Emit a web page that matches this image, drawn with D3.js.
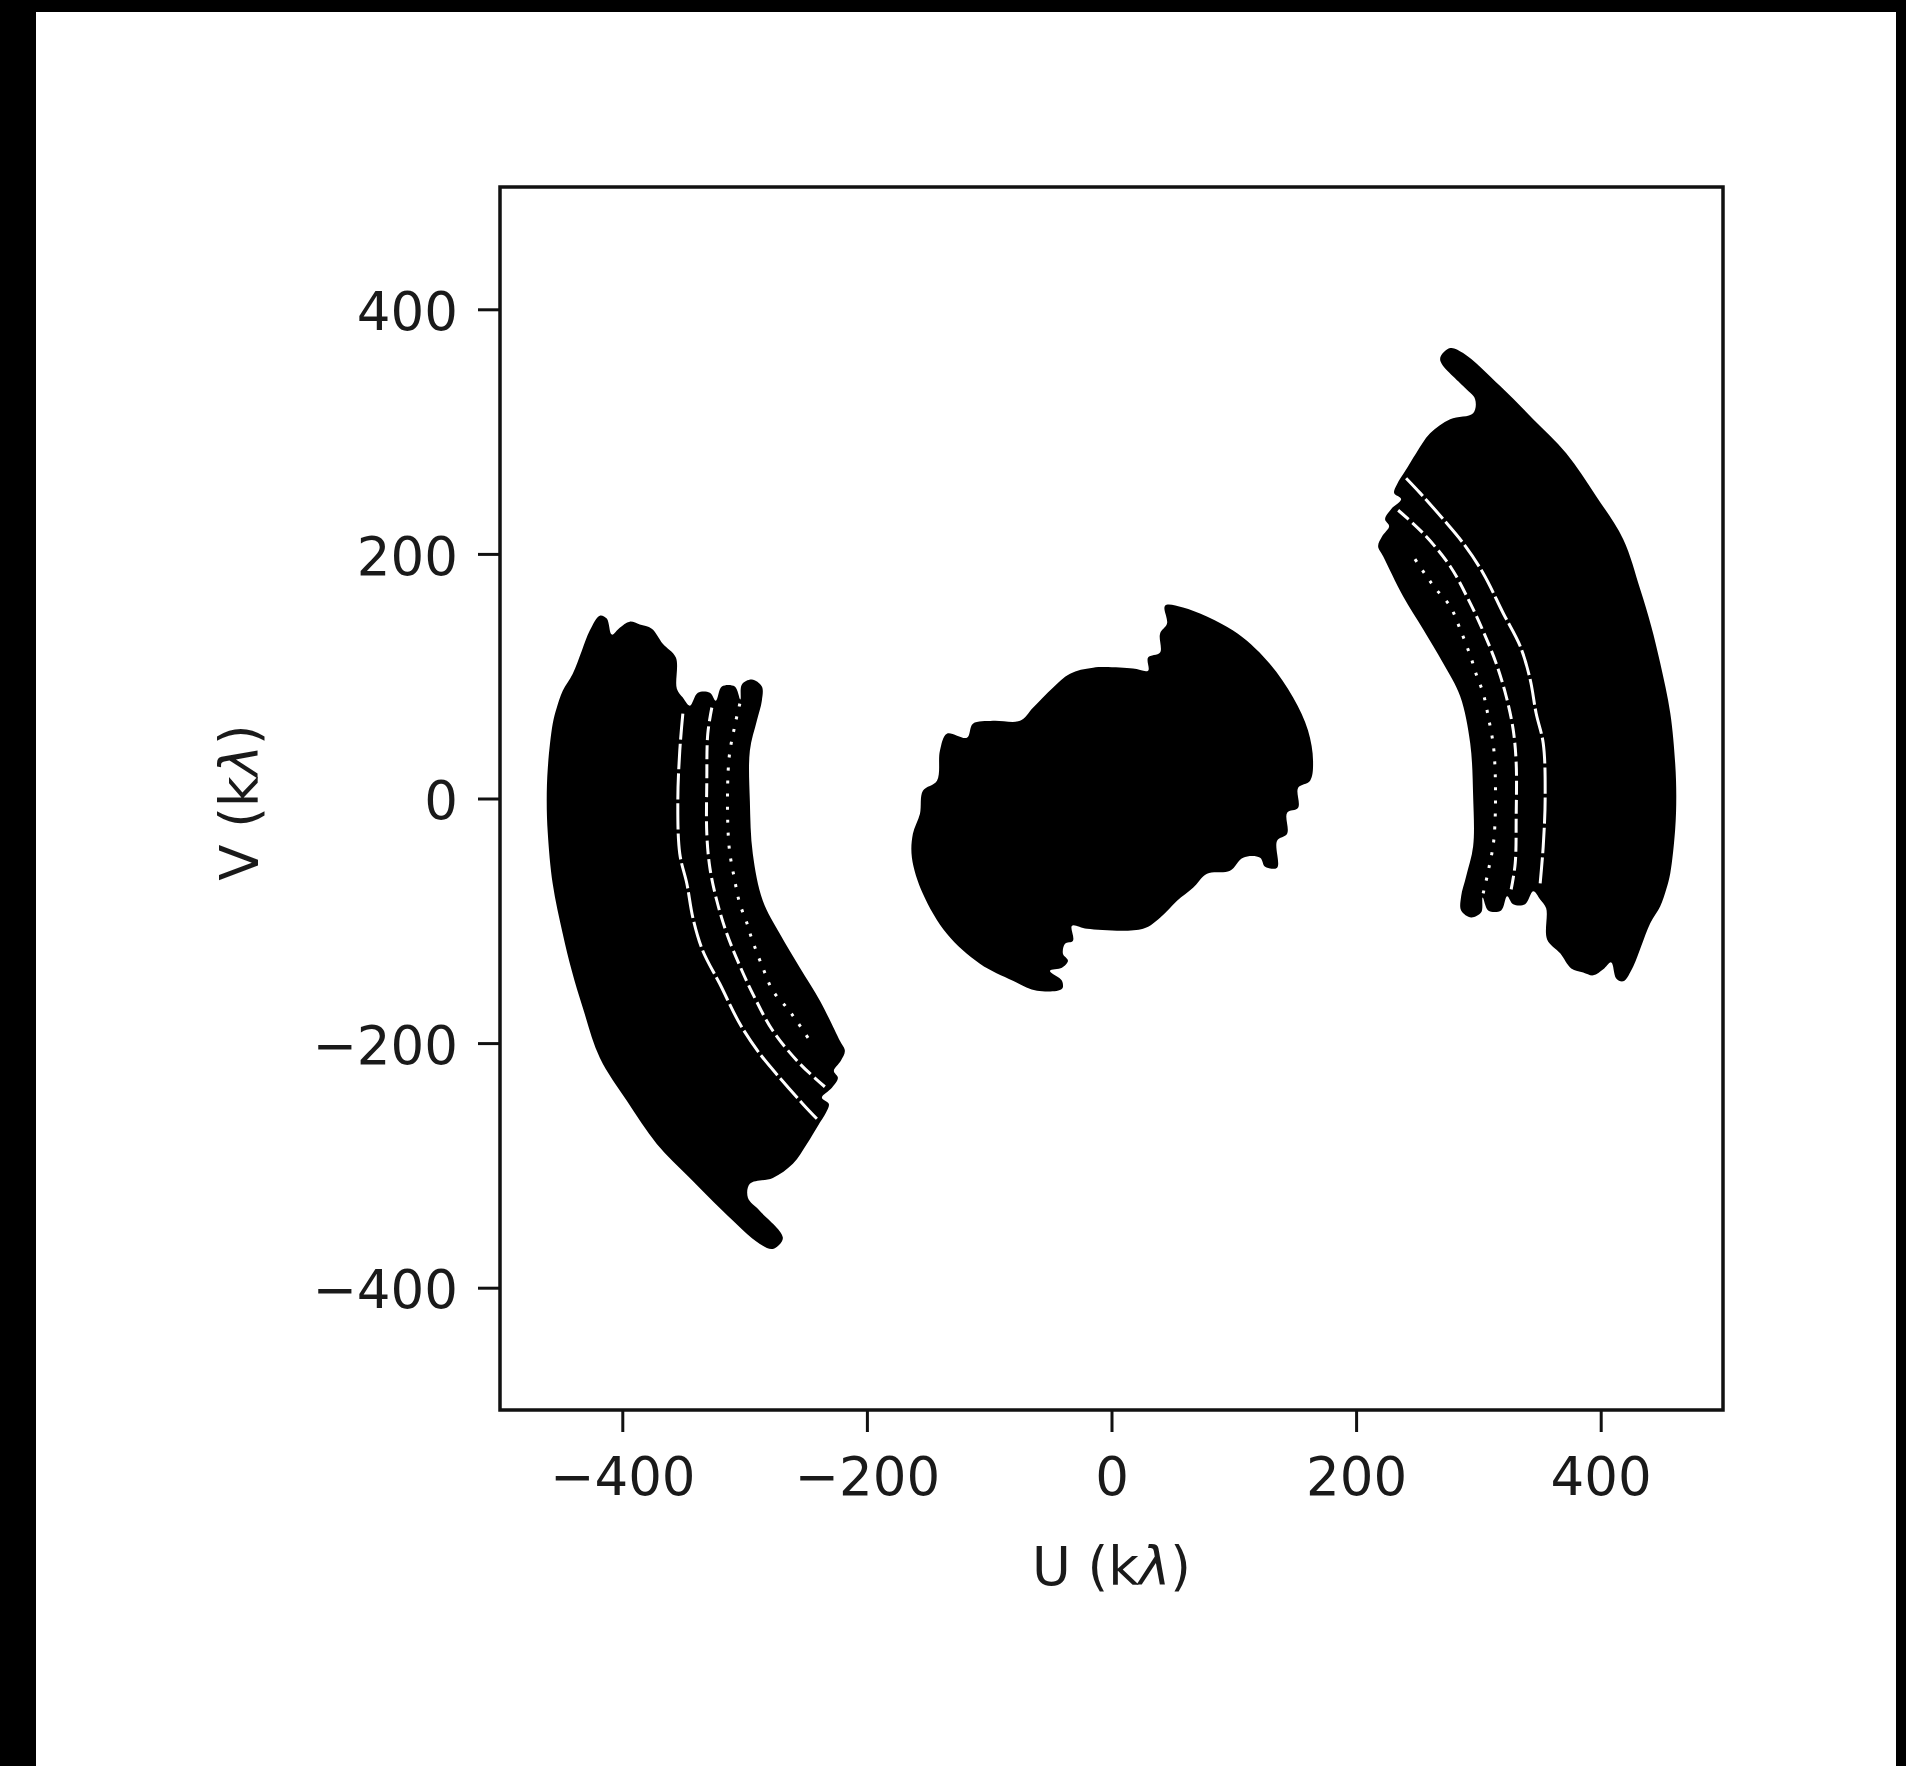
<!DOCTYPE html>
<html>
<head>
<meta charset="utf-8">
<script src="https://cdn.jsdelivr.net/npm/d3@7"></script>
<style>
  html, body { margin: 0; padding: 0; background: #000; }
  svg { display: block; }
</style>
</head>
<body>
<svg id="chart" width="1906" height="1766"></svg>
<script>
// ---- data (kλ) ----
const uDomain = [-500, 500];
const vDomain = [-500, 500];
const uTicks = [-400, -200, 0, 200, 400];
const vTicks = [-400, -200, 0, 200, 400];

// Long-baseline track (u < 0 half); its conjugate (-u, -v) is drawn as well
const longArcOutline = [
  [-418.4, 149.5], [-426.6, 137.3], [-433.1, 120.9], [-440.5, 102.1], [-448.7, 88.2],
  [-453.6, 74.3], [-456.9, 61.2], [-460.9, 25.2], [-461.8, -1.8], [-460.9, -28.8],
  [-456.9, -69.7], [-448.7, -110.6], [-441.3, -140.9], [-432.3, -171.1], [-418.4, -212.0],
  [-396.3, -247.2], [-371.8, -282.4], [-344.8, -310.2], [-317.8, -337.2], [-287.5, -364.2],
  [-276.9, -368.3], [-268.7, -359.3], [-287.5, -337.2], [-297.3, -326.5], [-295.7, -315.1],
  [-276.9, -310.2], [-260.5, -298.7], [-249.1, -282.4], [-240.1, -267.7], [-233.5, -257.0],
  [-231.1, -249.7], [-236.8, -244.7], [-228.6, -236.6], [-223.7, -228.4], [-227.0, -222.7],
  [-221.3, -214.5], [-218.0, -206.3], [-222.1, -198.1], [-238.4, -165.4], [-254.8, -138.4],
  [-271.2, -110.6], [-285.1, -83.6], [-293.3, -45.2], [-295.7, -1.8], [-295.7, 39.1],
  [-290.0, 63.6], [-285.9, 80.0], [-285.9, 91.5], [-294.1, 97.2], [-302.3, 93.1],
  [-303.5, 81.0], [-308.0, 91.5], [-318.6, 91.5], [-323.5, 80.0], [-328.4, 86.5],
  [-338.2, 86.5], [-344.8, 75.9], [-350.5, 82.5], [-355.4, 89.8], [-356.2, 115.2],
  [-366.9, 126.6], [-375.9, 138.9], [-385.7, 142.2], [-393.9, 144.6], [-402.1, 139.7],
  [-408.6, 134.0], [-412.7, 147.1]
];

// empty lanes between neighbouring baselines inside the long track
const laneGapOuter = [
  [-350.5, 69.4], [-353.0, 39.1], [-354.6, -1.8], [-353.0, -45.2], [-347.2, -69.7],
  [-342.3, -97.5], [-334.2, -124.5], [-320.3, -151.5], [-303.9, -184.2], [-287.5, -208.8],
  [-271.2, -228.4], [-252.4, -249.7], [-240.9, -261.9]
];
const laneGapMiddle = [
  [-326.8, 74.3], [-330.1, 53.0], [-330.9, 14.6], [-330.9, -28.8], [-328.4, -56.6],
  [-322.7, -83.6], [-314.5, -110.6], [-303.9, -136.8], [-293.3, -159.7], [-276.9, -189.9],
  [-254.8, -216.9], [-234.4, -235.7]
];
const laneGapInner = [
  [-303.9, 77.5], [-308.0, 59.6], [-312.9, 30.9], [-312.9, -37.0], [-308.0, -67.2],
  [-303.9, -86.1], [-298.2, -101.6], [-294.1, -114.7], [-285.1, -138.4], [-276.9, -157.2],
  [-265.4, -171.1], [-256.4, -183.4], [-245.0, -200.6]
];

// Short-baseline coverage (both halves)
const shortBaselineOutline = [
  [43.8, 157.7], [58.5, 156.1], [99.4, 137.3], [127.2, 112.7], [148.5, 82.5],
  [160.7, 55.5], [164.8, 30.9], [162.4, 14.6], [152.6, 8.8], [152.6, -7.5],
  [143.6, -11.6], [143.6, -28.8], [135.4, -34.5], [135.4, -56.6], [125.6, -55.8],
  [121.5, -48.4], [107.6, -48.4], [96.9, -59.1], [78.1, -61.5], [66.7, -73.0],
  [53.6, -83.6], [39.7, -97.5], [25.8, -106.5], [-20.0, -106.5], [-32.3, -104.0],
  [-31.5, -116.3], [-38.0, -118.8], [-39.7, -127.0], [-35.6, -132.7], [-40.5, -138.4],
  [-50.3, -140.9], [-40.5, -149.0], [-40.5, -155.6], [-60.9, -157.2], [-80.6, -149.0],
  [-107.6, -135.1], [-134.6, -110.6], [-154.2, -77.9], [-163.2, -48.4], [-162.4, -28.8],
  [-156.6, -12.4], [-154.2, 6.4], [-142.7, 14.6], [-140.3, 39.1], [-134.6, 53.0],
  [-118.2, 49.7], [-113.3, 61.2], [-96.9, 63.6], [-74.8, 63.6], [-64.2, 74.3],
  [-47.9, 90.6], [-33.9, 102.1], [-15.1, 107.0], [17.6, 106.2], [29.9, 104.5],
  [29.9, 115.2], [39.7, 119.3], [39.7, 134.8], [45.4, 143.0]
];

// ---- layout ----
const plot = { left: 500, top: 187, size: 1223 };
const fontFamily = "'DejaVu Sans', 'Liberation Sans', sans-serif";
const textColor = "#1a1a1a";
const fontSize = 53;

const svg = d3.select("#chart");

// page paper
svg.append("rect")
  .attr("x", 36).attr("y", 12)
  .attr("width", 1906 - 36 - 10).attr("height", 1766 - 12)
  .attr("fill", "#fff");

const x = d3.scaleLinear().domain(uDomain).range([plot.left, plot.left + plot.size]);
const y = d3.scaleLinear().domain(vDomain).range([plot.top + plot.size, plot.top]);

svg.append("defs").append("clipPath").attr("id", "plotClip")
  .append("rect")
  .attr("x", plot.left).attr("y", plot.top)
  .attr("width", plot.size).attr("height", plot.size);

const marks = svg.append("g").attr("clip-path", "url(#plotClip)");

const area = d3.line().x(d => x(d[0])).y(d => y(d[1]))
  .curve(d3.curveCatmullRomClosed.alpha(0.5));
const path = d3.line().x(d => x(d[0])).y(d => y(d[1]))
  .curve(d3.curveCatmullRom.alpha(0.5));
const conj = pts => pts.map(([u, v]) => [-u, -v]);

// long-baseline tracks and their conjugates
[longArcOutline, conj(longArcOutline)].forEach(poly => {
  marks.append("path").attr("d", area(poly)).attr("fill", "#000");
});

const gaps = [
  { pts: laneGapOuter, dash: "26,4", width: 3 },
  { pts: laneGapMiddle, dash: "14,5", width: 3 },
  { pts: laneGapInner, dash: "3,10", width: 3 }
];
gaps.forEach(g => {
  [g.pts, conj(g.pts)].forEach(p => {
    marks.append("path")
      .attr("d", path(p))
      .attr("fill", "none")
      .attr("stroke", "#fff")
      .attr("stroke-width", g.width)
      .attr("stroke-dasharray", g.dash);
  });
});

// short-baseline coverage
marks.append("path").attr("d", area(shortBaselineOutline)).attr("fill", "#000");

// ---- axes ----
const fmt = d => (d < 0 ? "\u2212" + Math.abs(d) : String(d));

const xAxis = svg.append("g")
  .attr("transform", `translate(0,${plot.top + plot.size})`)
  .call(d3.axisBottom(x).tickValues(uTicks).tickFormat(fmt).tickSize(22).tickPadding(12));
const yAxis = svg.append("g")
  .attr("transform", `translate(${plot.left},0)`)
  .call(d3.axisLeft(y).tickValues(vTicks).tickFormat(fmt).tickSize(22).tickPadding(20));

[xAxis, yAxis].forEach(ax => {
  ax.select(".domain").remove();
  ax.selectAll(".tick line").attr("stroke", "#111").attr("stroke-width", 3);
  ax.selectAll(".tick text")
    .attr("fill", textColor)
    .style("font-family", fontFamily)
    .style("font-size", fontSize + "px");
});
xAxis.selectAll(".tick text").attr("dy", null).attr("y", 85);
yAxis.selectAll(".tick text").attr("dy", "0.38em");

// frame
svg.append("rect")
  .attr("x", plot.left).attr("y", plot.top)
  .attr("width", plot.size).attr("height", plot.size)
  .attr("fill", "none")
  .attr("stroke", "#111")
  .attr("stroke-width", 3.5);

// axis titles
const xTitle = svg.append("text")
  .attr("x", plot.left + plot.size / 2)
  .attr("y", 1585)
  .attr("text-anchor", "middle")
  .attr("fill", textColor)
  .style("font-family", fontFamily)
  .style("font-size", fontSize + "px");
xTitle.append("tspan").text("U (k");
xTitle.append("tspan").style("font-style", "italic").text("\u03bb");
xTitle.append("tspan").text(")");

const yTitle = svg.append("text")
  .attr("transform", `translate(258,${plot.top + plot.size / 2 + 4}) rotate(-90)`)
  .attr("text-anchor", "middle")
  .attr("fill", textColor)
  .style("font-family", fontFamily)
  .style("font-size", fontSize + "px");
yTitle.append("tspan").text("V (k");
yTitle.append("tspan").style("font-style", "italic").text("\u03bb");
yTitle.append("tspan").text(")");
</script>
</body>
</html>
